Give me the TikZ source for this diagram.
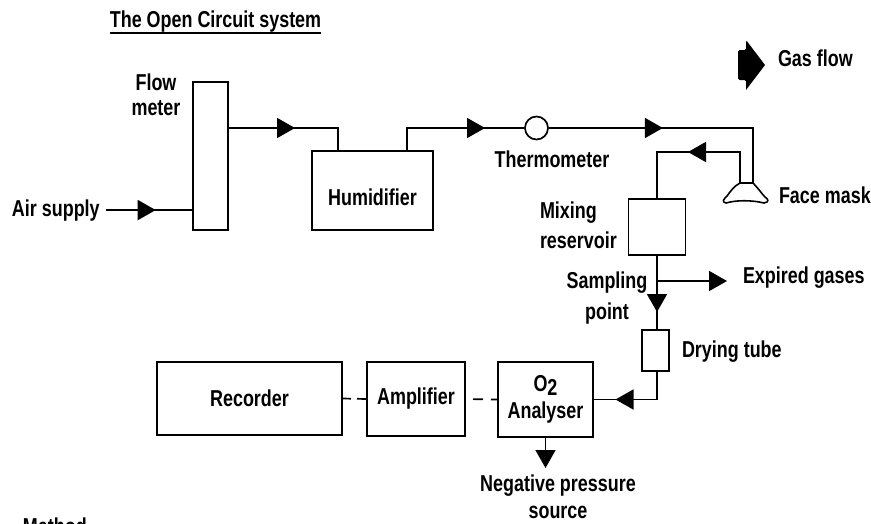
\documentclass[tikz,border=0pt]{standalone}
\usepackage{fontspec}
\newfontfamily\lbf{Liberation Sans}[FakeStretch=0.78]
\usetikzlibrary{arrows.meta,decorations.markings}
\begin{document}
\begin{tikzpicture}[x=1pt,y=-1pt,
  lbl/.style={font=\lbf\bfseries\fontsize{23}{26}\selectfont, inner sep=0pt, outer sep=0pt},
  box/.style={draw, line width=1.7pt, inner sep=0pt, outer sep=0pt},
  pipe/.style={line width=1.7pt},
  dline/.style={line width=1.7pt},
  fa/.style={postaction={decorate,decoration={markings,mark=at position #1 with {\arrow{Triangle[length=18pt,width=20pt]}}}}}
]
\useasboundingbox (0,0) rectangle (871,523);

% title
\node[lbl,anchor=base] (title) at (215.5,27) {The Open Circuit system};
\draw[line width=1.5pt] ([yshift=-6pt]title.base west) -- ([yshift=-6pt]title.base east);

% gas flow legend
\fill[rounded corners=1.5pt] (738,50) -- (746,50) -- (746,40) [sharp corners] -- (765,65) -- (746,90) [rounded corners=1.5pt] -- (746,80) -- (738,80) -- cycle;
\node[lbl,anchor=base west] (gas) at (778,66) {Gas flow};

% components
\node[box,minimum width=35pt,minimum height=148pt] (flow) at (210.5,156) {};
\node[lbl,align=center,anchor=base] (flowlbl) at (156,115) {Flow\\[-1pt]meter};
\node[lbl,anchor=base west] (air) at (12,216) {Air supply};
\node[box,minimum width=121pt,minimum height=79pt,label={[lbl,yshift=-7pt]center:Humidifier}] (hum) at (372.5,190.5) {};
\node[draw,circle,line width=1.7pt,minimum size=23pt,inner sep=0pt] (therm) at (536.5,128) {};
\node[lbl,anchor=base] (thermlbl) at (552,167) {Thermometer};

\coordinate (maskR) at (753,183);
\coordinate (maskL) at (740,183);
\draw[line width=1.6pt,line join=round] (maskL) .. controls (734,186) and (730,192) .. (727,196)
  .. controls (724,199) and (721,202) .. (726,203)
  .. controls (736,200) and (752,200) .. (764,203)
  .. controls (770,202) and (768,199) .. (765,197)
  .. controls (762,194) and (758,188) .. (maskR) -- cycle;
\node[lbl,anchor=base west] (masklbl) at (779,203) {Face mask};

\node[box,minimum width=57pt,minimum height=56pt] (mix) at (657,227) {};
\node[lbl,anchor=base west,align=left] (mixlbl) at (540,248) {Mixing\\[4pt]reservoir};
\node[box,minimum width=27pt,minimum height=41pt] (dry) at (655.5,350.5) {};
\node[lbl,anchor=base west] (drylbl) at (682,357) {Drying tube};
\node[lbl,align=center,anchor=base] (samplbl) at (607,319) {Sampling\\[5pt]point};
\coordinate (branch) at (mix.south |- 0,281);
\coordinate (expend) at (727,281);
\node[lbl,anchor=base west] (explbl) at (743,283) {Expired gases};

\node[box,lbl,align=center,minimum width=95pt,minimum height=75pt] (ana) at (545.5,399.5) {O\raisebox{-4pt}{2}\\[1pt]Analyser};
\node[box,lbl,minimum width=98pt,minimum height=74pt] (amp) at (416,399) {Amplifier};
\node[box,lbl,minimum width=185pt,minimum height=73pt] (rec) at (249.5,398.5) {Recorder};
\node[lbl,align=center,anchor=base] (neglbl) at (558,518) {Negative pressure\\[1pt]source};
\node[lbl,anchor=base west] (method) at (23,534) {Method};

% connectors
\draw[pipe,fa=50pt] ([xshift=6pt]air.east) -- (flow.west |- air.east);
\draw[pipe,fa=67pt] (flow.east |- 0,128) -| ([xshift=-34.5pt]hum.north);
\draw[pipe,fa=101pt] ([xshift=34.5pt]hum.north) |- (therm.west);
\draw[pipe,fa=114pt] (therm.east) -| (maskR);
\draw[pipe,fa=83pt] (maskL) -- ++(0,-31) -| (mix.north);
\draw[pipe,fa=57pt] (mix.south) -- (mix.south |- dry.north);
\draw[pipe,-{Triangle[length=18pt,width=20pt]}] (branch) -- (expend);
\draw[pipe,fa=70pt] (dry.south -| mix.south) |- (ana.east);
\draw[dline,dash pattern=on 10pt off 8pt,dash phase=10pt] (amp.east) -- (ana.west);
\draw[dline,dash pattern=on 9pt off 6pt] (rec.east) -- (amp.west);
\draw[pipe,-{Triangle[length=18pt,width=20pt]}] (ana.south) -- ++(0,31);
\end{tikzpicture}
\end{document}
